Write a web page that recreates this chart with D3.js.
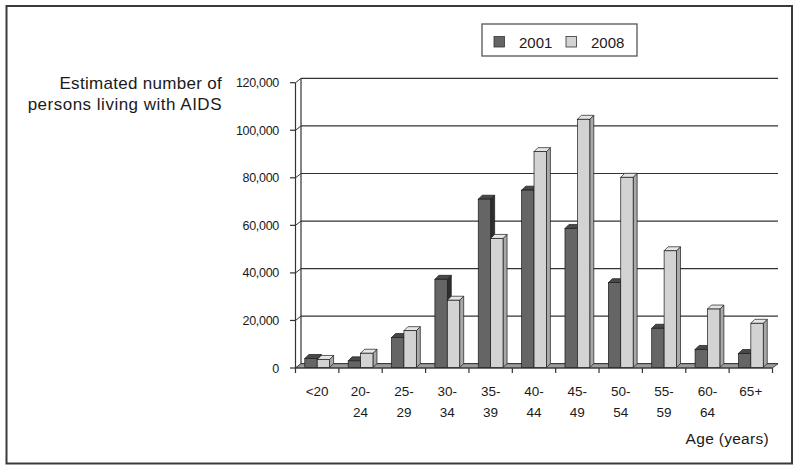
<!DOCTYPE html>
<html>
<head>
<meta charset="utf-8">
<script src="https://cdn.jsdelivr.net/npm/d3@7"></script>
<style>
    body { margin: 0; background: #fff; }
    text { font-family: "Liberation Sans", Arial, sans-serif; fill: #1a1a1a; }
</style>
</head>
<body>
<div class="container"></div>
<script>
var ageGroups = ["<20", "20-24", "25-29", "30-34", "35-39", "40-44", "45-49", "50-54", "55-59", "60-64", "65+"];
var series = ["2001", "2008"];
var values2001 = [4000, 3000, 12800, 37300, 71000, 74800, 58700, 35900, 16700, 7800, 6100];
var values2008 = [3600, 6200, 15700, 28500, 54500, 91000, 104600, 80200, 49300, 24800, 18800];
var yTicks = [0, 20000, 40000, 60000, 80000, 100000, 120000];

var width = 800;
var height = 472;
var depth = 4;          // bar depth
var wallDx = 5.5, wallDy = -4.3;

var frontColors = { "2001": "#656565", "2008": "#d3d3d3" };
var topColors = { "2001": "#484848", "2008": "#e6e6e6" };
var sideColors = { "2001": "#2e2e2e", "2008": "#a9a9a9" };

var svg = d3.select('.container')
    .append('svg')
    .attr('width', width)
    .attr('height', height);

// outer frame
svg.append('rect')
    .attr('x', 6.5).attr('y', 6)
    .attr('width', 785.5).attr('height', 457.5)
    .attr('fill', 'none')
    .attr('stroke', '#3a3a3a')
    .attr('stroke-width', 2);

var x = d3.scaleBand()
    .domain(ageGroups)
    .range([295.5, 772.5]);

var x1 = d3.scaleBand()
    .domain(series)
    .range([9.3, 34.1]);

var y = d3.scaleLinear()
    .domain([0, 120000])
    .range([368, 82.7]);

var wallLeft = 295.5 + wallDx;
var wallRight = 772.5 + wallDx;

// back wall gridlines
svg.append('g')
    .selectAll('line')
    .data(yTicks)
    .enter().append('line')
    .attr('x1', wallLeft)
    .attr('x2', wallRight)
    .attr('y1', function (d) { return y(d) + wallDy; })
    .attr('y2', function (d) { return y(d) + wallDy; })
    .attr('stroke', '#333')
    .attr('stroke-width', 1.2);

// side wall lines
svg.append('g')
    .selectAll('line')
    .data(yTicks)
    .enter().append('line')
    .attr('x1', 295.5)
    .attr('x2', wallLeft)
    .attr('y1', function (d) { return y(d); })
    .attr('y2', function (d) { return y(d) + wallDy; })
    .attr('stroke', '#333')
    .attr('stroke-width', 1);

svg.append('line')
    .attr('x1', wallLeft).attr('x2', wallLeft)
    .attr('y1', y(120000) + wallDy).attr('y2', y(0) + wallDy)
    .attr('stroke', '#333').attr('stroke-width', 1.2);

// floor
svg.append('path')
    .attr('d', 'M' + 295.5 + ',' + y(0) + 'L' + 772.5 + ',' + y(0) +
        'L' + wallRight + ',' + (y(0) + wallDy) + 'L' + wallLeft + ',' + (y(0) + wallDy) + 'Z')
    .attr('fill', '#9c9c9c')
    .attr('stroke', '#333')
    .attr('stroke-width', 0.8);

// y axis line
svg.append('line')
    .attr('x1', 295.5).attr('x2', 295.5)
    .attr('y1', y(120000)).attr('y2', y(0))
    .attr('stroke', '#333').attr('stroke-width', 1.2);

// 3d bars
var barData = [];
ageGroups.forEach(function (g, i) {
    barData.push({ group: g, key: "2001", value: values2001[i] });
    barData.push({ group: g, key: "2008", value: values2008[i] });
});

var bottom = y(0) - 0.5;
var bars = svg.append('g')
    .selectAll('g')
    .data(barData)
    .enter().append('g');

function barX(d) { return x(d.group) + x1(d.key); }

bars.append('path')
    .attr('d', function (d) {
        var x0 = barX(d), w = x1.bandwidth(), t = y(d.value);
        return 'M' + (x0 + w) + ',' + t + 'L' + (x0 + w + depth) + ',' + (t - depth) +
            'L' + (x0 + w + depth) + ',' + (bottom - depth) + 'L' + (x0 + w) + ',' + bottom + 'Z';
    })
    .attr('fill', function (d) { return sideColors[d.key]; })
    .attr('stroke', '#1a1a1a').attr('stroke-width', 0.7).attr('stroke-linejoin', 'round');

bars.append('path')
    .attr('d', function (d) {
        var x0 = barX(d), w = x1.bandwidth(), t = y(d.value);
        return 'M' + x0 + ',' + t + 'L' + (x0 + depth) + ',' + (t - depth) +
            'L' + (x0 + w + depth) + ',' + (t - depth) + 'L' + (x0 + w) + ',' + t + 'Z';
    })
    .attr('fill', function (d) { return topColors[d.key]; })
    .attr('stroke', '#1a1a1a').attr('stroke-width', 0.7).attr('stroke-linejoin', 'round');

bars.append('rect')
    .attr('x', barX)
    .attr('y', function (d) { return y(d.value); })
    .attr('width', x1.bandwidth())
    .attr('height', function (d) { return bottom - y(d.value); })
    .attr('fill', function (d) { return frontColors[d.key]; })
    .attr('stroke', '#1a1a1a').attr('stroke-width', 0.7);

// x axis line and ticks
svg.append('line')
    .attr('x1', 295.5).attr('x2', 772.5)
    .attr('y1', y(0)).attr('y2', y(0))
    .attr('stroke', '#333').attr('stroke-width', 1.2);

svg.append('g')
    .selectAll('line')
    .data(ageGroups.concat(['end']))
    .enter().append('line')
    .attr('x1', function (d) { return d == 'end' ? 772.5 : x(d); })
    .attr('x2', function (d) { return d == 'end' ? 772.5 : x(d); })
    .attr('y1', y(0)).attr('y2', y(0) + 5)
    .attr('stroke', '#333').attr('stroke-width', 1.2);

// y ticks
svg.append('g')
    .selectAll('line')
    .data(yTicks)
    .enter().append('line')
    .attr('x1', 290).attr('x2', 295.5)
    .attr('y1', function (d) { return y(d); })
    .attr('y2', function (d) { return y(d); })
    .attr('stroke', '#333').attr('stroke-width', 1.2);

svg.append('g')
    .selectAll('text')
    .data(yTicks)
    .enter().append('text')
    .attr('x', 279)
    .attr('y', function (d) { return y(d) + 4.5; })
    .attr('text-anchor', 'end')
    .attr('font-size', '12.5px')
    .attr('letter-spacing', '-0.3px')
    .text(d3.format(','));

// category labels, split on the dash
var labels = svg.append('g')
    .selectAll('text')
    .data(ageGroups)
    .enter().append('text')
    .attr('text-anchor', 'middle')
    .attr('font-size', '13.5px');

labels.each(function (d) {
    var parts = d.indexOf('-') > 0 ? [d.split('-')[0] + '-', d.split('-')[1]] : [d];
    var cx = x(d) + x.bandwidth() / 2;
    d3.select(this).selectAll('tspan')
        .data(parts)
        .enter().append('tspan')
        .attr('x', cx)
        .attr('y', function (p, i) { return 395.5 + i * 21; })
        .text(function (p) { return p; });
});

// axis titles
svg.append('text')
    .attr('x', 222).attr('y', 89)
    .attr('text-anchor', 'end')
    .attr('font-size', '17px')
    .attr('letter-spacing', '0.3px')
    .text('Estimated number of');

svg.append('text')
    .attr('x', 222).attr('y', 110)
    .attr('text-anchor', 'end')
    .attr('font-size', '17px')
    .attr('letter-spacing', '0.5px')
    .text('persons living with AIDS');

svg.append('text')
    .attr('x', 769).attr('y', 444)
    .attr('text-anchor', 'end')
    .attr('font-size', '15.5px')
    .attr('letter-spacing', '0.3px')
    .text('Age (years)');

// legend
var legend = svg.append('g');
legend.append('rect')
    .attr('x', 482).attr('y', 24)
    .attr('width', 155).attr('height', 32)
    .attr('fill', '#fff')
    .attr('stroke', '#555')
    .attr('stroke-width', 1.3);

var legendX = [494, 566];
var items = legend.selectAll('g')
    .data(series)
    .enter().append('g')
    .attr('transform', function (d, i) { return 'translate(' + legendX[i] + ',0)'; });

items.append('rect')
    .attr('x', 0).attr('y', 36.5)
    .attr('width', 10.5).attr('height', 10.5)
    .attr('fill', function (d) { return frontColors[d]; })
    .attr('stroke', '#333').attr('stroke-width', 0.8);

items.append('text')
    .attr('x', 25).attr('y', 47.5)
    .attr('font-size', '15px')
    .text(function (d) { return d; });
</script>
</body>
</html>
